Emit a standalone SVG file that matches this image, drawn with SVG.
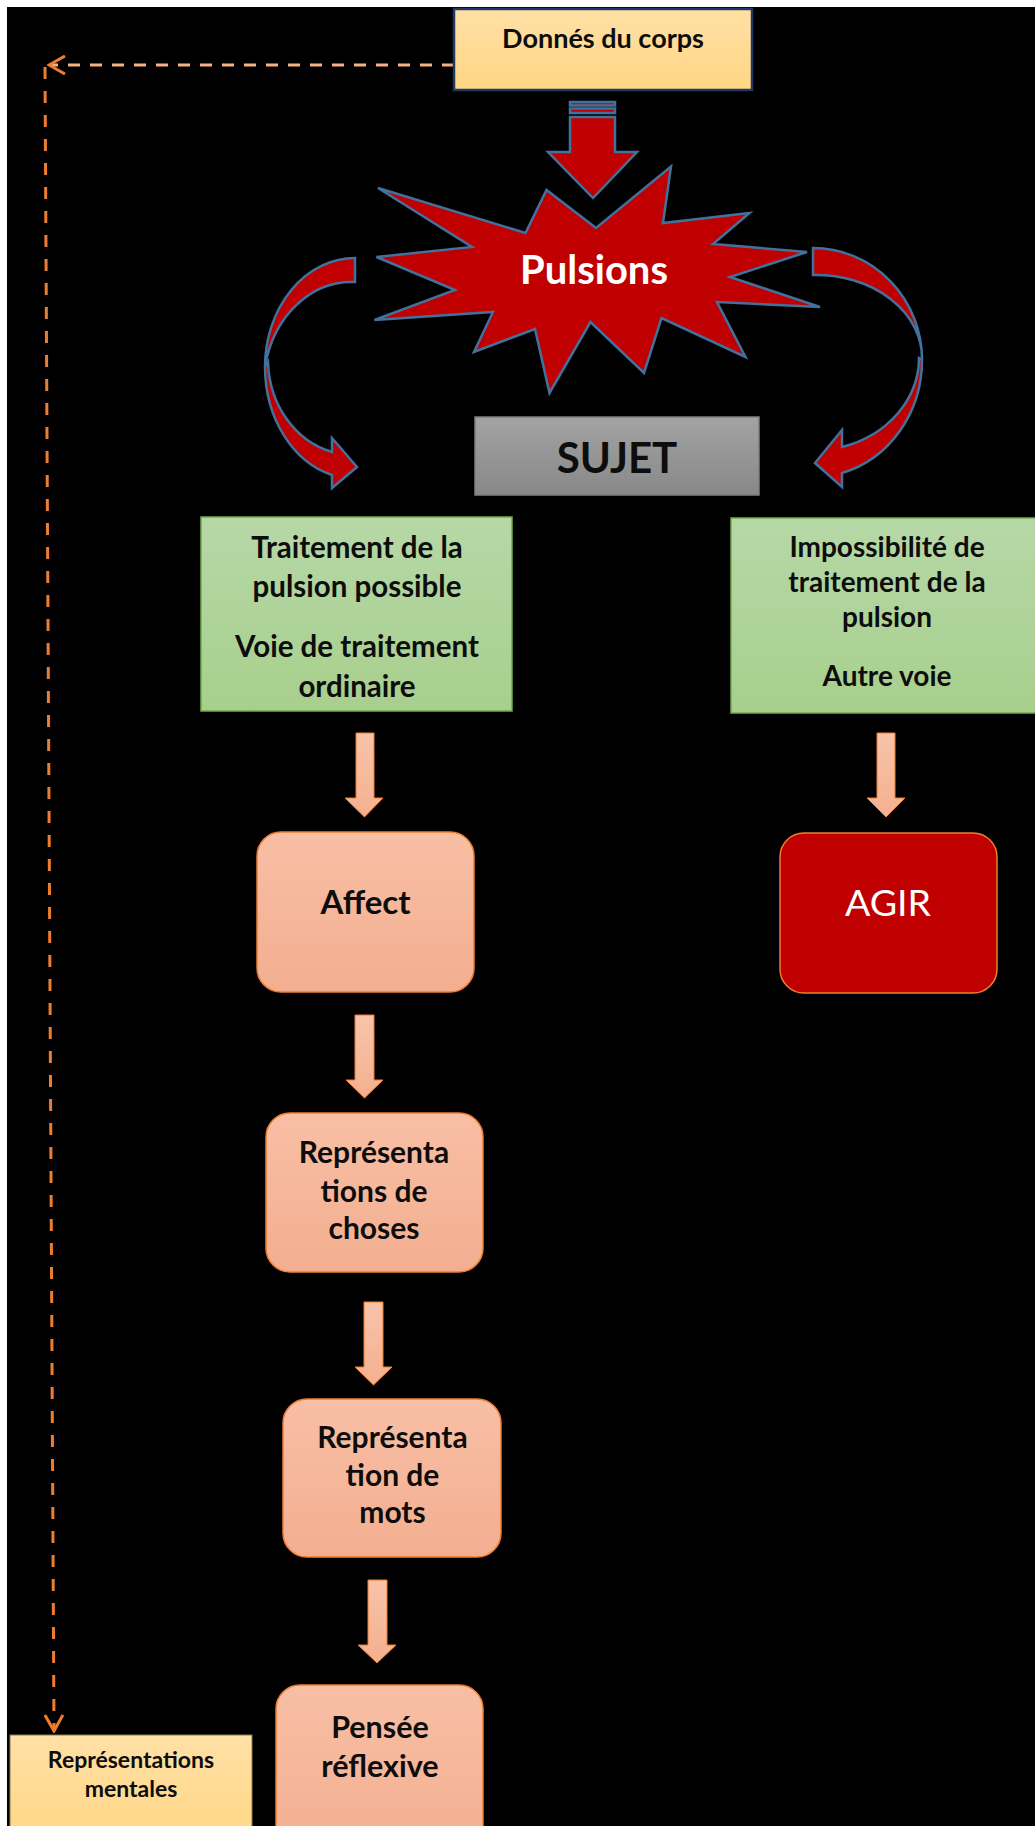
<svg xmlns="http://www.w3.org/2000/svg" width="1035" height="1826" viewBox="0 0 1035 1826">
<defs>
<linearGradient id="gYel" x1="0" y1="0" x2="0" y2="1"><stop offset="0" stop-color="#FFE0A6"/><stop offset="1" stop-color="#FFD683"/></linearGradient>
<linearGradient id="gGreen" x1="0" y1="0" x2="0" y2="1"><stop offset="0" stop-color="#B6D8A7"/><stop offset="1" stop-color="#A8CF8D"/></linearGradient>
<linearGradient id="gGray" x1="0" y1="0" x2="0" y2="1"><stop offset="0" stop-color="#A3A3A3"/><stop offset="1" stop-color="#888888"/></linearGradient>
<linearGradient id="gPink" x1="0" y1="0" x2="0" y2="1"><stop offset="0" stop-color="#F8BFA5"/><stop offset="1" stop-color="#F3AE90"/></linearGradient>
<linearGradient id="gPinkArrow" x1="0" y1="0" x2="0" y2="1"><stop offset="0" stop-color="#F8C3AA"/><stop offset="1" stop-color="#F4B08F"/></linearGradient>
<marker id="chev" viewBox="0 0 20 20" refX="18" refY="10" markerWidth="20" markerHeight="20" markerUnits="userSpaceOnUse" orient="auto">
<path d="M2,1 L18,10 L2,19" fill="none" stroke="#ED7D31" stroke-width="3"/>
</marker>
<style>
.txt{font-family:Lato,"Open Sans",sans-serif;font-weight:bold;fill:#0d0d0d;text-anchor:middle}
.red{fill:#C00000;stroke:#41719C;stroke-width:2.5;stroke-linejoin:miter}
.pinkbox{fill:url(#gPink);stroke:#ED7D31;stroke-width:1.5}
.parrow{fill:url(#gPinkArrow);stroke:#ED7D31;stroke-width:1}
.green{fill:url(#gGreen);stroke:#70AD47;stroke-width:1.5}
</style>
</defs>
<rect x="0" y="0" width="1035" height="1826" fill="#ffffff"/>
<rect x="7" y="7" width="1028" height="1819" fill="#000000"/>

<g id="connectors">
<path d="M454,65 L49,65" fill="none" stroke="#F4B183" stroke-width="3" stroke-dasharray="12 10" marker-end="url(#chev)"/>
<path d="M45,67 L54,1731" fill="none" stroke="#ED7D31" stroke-width="3" stroke-dasharray="12 12" marker-end="url(#chev)"/>
<g id="striped-arrow">
<rect class="red" x="570" y="102" width="45" height="3.5"/>
<rect class="red" x="570" y="108.5" width="45" height="4.5"/>
<path class="red" d="M570,117 L615,117 L615,152 L637,152 L593,198 L548,152 L570,152 Z"/>
</g>
<path id="curve-left-upper" class="red" d="M355,258 A90,109 0 0 0 265,367 A88,105 0 0 1 355,282 Z"/>
<path id="curve-left-lower" class="red" d="M265,367 A90,112 0 0 0 332,475 L332,488 L357,467 L332,438 L332,452 A85,96 0 0 1 268,362 Z"/>
<path id="curve-right-upper" class="red" d="M813,248 A109,112 0 0 1 922,360 A106,83 0 0 0 813,275 Z"/>
<path id="curve-right-lower" class="red" d="M922,360 A109,117 0 0 1 842,473 L842,487 L815,463 L842,430 L842,447 A106,93 0 0 0 919,358 Z"/>
<path class="parrow" d="M356,733 L374,733 L374,798 L383,798 L364.5,817 L345,798 L356,798 Z"/>
<path class="parrow" d="M877,733 L895,733 L895,798 L905,798 L886,817 L867,798 L877,798 Z"/>
<path class="parrow" d="M355,1015 L374,1015 L374,1080 L383,1080 L364.5,1098 L346,1080 L355,1080 Z"/>
<path class="parrow" d="M364,1302 L383,1302 L383,1367 L392,1367 L373.5,1385 L355,1367 L364,1367 Z"/>
<path class="parrow" d="M368,1580 L387,1580 L387,1645 L396,1645 L377,1663 L358,1645 L368,1645 Z"/>
</g>

<g id="node-donnes">
<rect x="454" y="9" width="298" height="81" fill="url(#gYel)" stroke="#203864" stroke-width="2.5"/>
<text class="txt" x="603" y="48" font-size="27">Donnés du corps</text>
</g>

<g id="node-pulsions">
<polygon class="red" points="378,188 525.5,233 546.5,190 596,228 671,166.5 663,223 749.5,213 713,244 807,252 730,277 820,307 717,302 745.5,357 661.5,318 644,373 590.5,322 549.5,393 535,329 474,352 493,312 374.5,320 455,290 376.5,257 472,247"/>
<text class="txt" x="594" y="284" font-size="40" style="fill:#ffffff">Pulsions</text>
</g>

<g id="node-sujet">
<rect x="475" y="417" width="284" height="78" fill="url(#gGray)" stroke="#7F7F7F" stroke-width="1.5"/>
<text class="txt" x="617" y="473" font-size="42">SUJET</text>
</g>

<g id="node-traitement">
<rect class="green" x="201" y="517" width="311" height="194"/>
<text class="txt" x="357" y="558" font-size="29.5">Traitement de la</text>
<text class="txt" x="357" y="597" font-size="29.5">pulsion possible</text>
<text class="txt" x="357" y="657" font-size="29.5">Voie de traitement</text>
<text class="txt" x="357" y="697" font-size="29.5">ordinaire</text>
</g>

<g id="node-impossibilite">
<rect class="green" x="731" y="518" width="312" height="195"/>
<text class="txt" x="887" y="557" font-size="28">Impossibilité de</text>
<text class="txt" x="887" y="592" font-size="28">traitement de la</text>
<text class="txt" x="887" y="627" font-size="28">pulsion</text>
<text class="txt" x="887" y="686" font-size="28">Autre voie</text>
</g>

<g id="node-affect">
<rect class="pinkbox" x="257" y="832" width="217" height="160" rx="24" ry="24"/>
<text class="txt" x="365.5" y="914" font-size="33">Affect</text>
</g>

<g id="node-agir">
<rect x="780" y="833" width="217" height="160" rx="24" ry="24" fill="#C00000" stroke="#ED7D31" stroke-width="1.5"/>
<text class="txt" x="888" y="916" font-size="37.5" style="fill:#ffffff;font-weight:normal">AGIR</text>
</g>

<g id="node-choses">
<rect class="pinkbox" x="266" y="1113" width="217" height="159" rx="24" ry="24"/>
<text class="txt" x="374" y="1163" font-size="30">Représenta</text>
<text class="txt" x="374" y="1202" font-size="30">tions de</text>
<text class="txt" x="374" y="1239" font-size="30">choses</text>
</g>

<g id="node-mots">
<rect class="pinkbox" x="283" y="1399" width="218" height="158" rx="24" ry="24"/>
<text class="txt" x="392.5" y="1448" font-size="30">Représenta</text>
<text class="txt" x="392.5" y="1486" font-size="30">tion de</text>
<text class="txt" x="392.5" y="1523" font-size="30">mots</text>
</g>

<g id="node-pensee">
<rect class="pinkbox" x="276" y="1685" width="207" height="170" rx="24" ry="24"/>
<text class="txt" x="380" y="1738" font-size="30.5">Pensée</text>
<text class="txt" x="380" y="1777" font-size="30.5">réflexive</text>
</g>

<g id="node-representations">
<rect x="10" y="1735" width="242" height="110" fill="url(#gYel)" stroke="#8C7A4A" stroke-width="1"/>
<text class="txt" x="131" y="1768" font-size="23">Représentations</text>
<text class="txt" x="131" y="1797" font-size="23">mentales</text>
</g>
</svg>
